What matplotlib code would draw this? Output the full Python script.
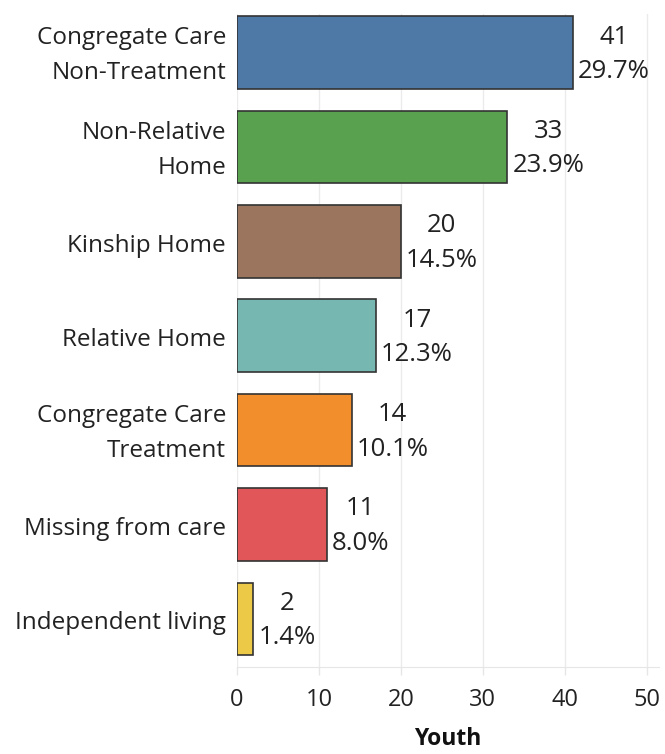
import numpy as np
import matplotlib.pyplot as plt

# dati
categorie = ['Congregate Care\nNon-Treatment', 'Non-Relative\nHome', 'Kinship Home',
             'Relative Home', 'Congregate Care\nTreatment', 'Missing from care',
             'Independent living']
giovani = [41, 33, 20, 17, 14, 11, 2]
percentuali = ['29.7%', '23.9%', '14.5%', '12.3%', '10.1%', '8.0%', '1.4%']
colori = ['#4e79a7', '#59a14f', '#9c755f', '#76b7b2', '#f28e2b', '#e15759', '#edc948']

plt.rcParams['font.family'] = ['Open Sans', 'DejaVu Sans']

fig = plt.figure(figsize=(6.65, 7.54), dpi=100)
ax = fig.add_axes([0.3564, 0.1154, 0.6346, 0.8660])

y = np.arange(len(categorie))
ax.barh(y, giovani, height=0.77, color=colori, edgecolor='#333333', linewidth=1.2, zorder=3)

# etichette con valore e percentuale
for yi, v, p in zip(y, giovani, percentuali):
    ax.annotate(str(v) + '\n' + p, xy=(v, yi), xytext=(3.5, -1.2), textcoords='offset points',
                ha='left', va='center', multialignment='center', fontsize=18.5,
                color='#222222', linespacing=1.5)

# etichette delle categorie
ax.set_yticks(y)
ax.set_yticklabels([])
for yi, c in zip(y, categorie):
    dy = -2.2 if '\n' in c else -3.0
    ax.annotate(c, xy=(0, yi), xycoords=ax.get_yaxis_transform(), xytext=(-8, dy),
                textcoords='offset points', ha='right', va='center', multialignment='right',
                fontsize=17.5, color='#222222', linespacing=1.62)

ax.set_ylim(6.51, -0.41)
ax.set_xlim(0, 51.5)
ax.set_xticks([0, 10, 20, 30, 40, 50])
ax.tick_params(axis='x', labelsize=17, colors='#e6e6e6', labelcolor='#222222', length=6, width=1, pad=9)
ax.tick_params(axis='y', length=0)
ax.grid(axis='x', color='#ebebeb', linewidth=1, zorder=0)
for s in ['top', 'right', 'left']:
    ax.spines[s].set_visible(False)
ax.spines['bottom'].set_color('#e6e6e6')
ax.set_xlabel('Youth', fontsize=16.5, fontweight='bold', color='#111111', labelpad=11)

fig.savefig('out.png', dpi=100)
